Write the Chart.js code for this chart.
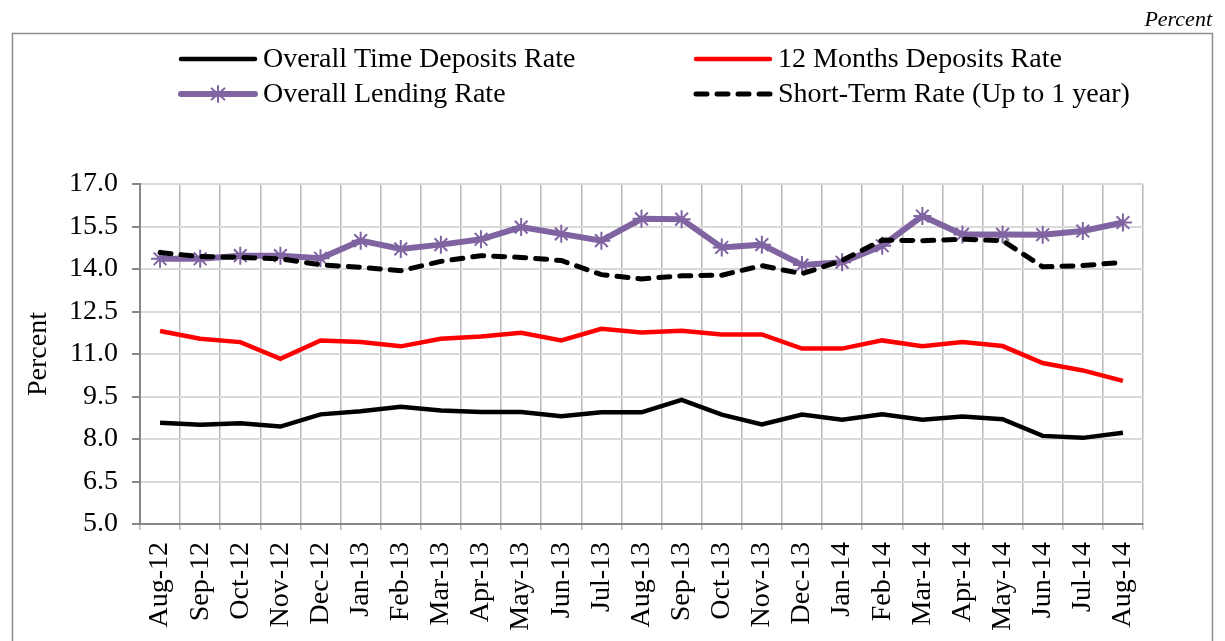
<!DOCTYPE html>
<html>
<head>
<meta charset="utf-8">
<script src="https://cdn.jsdelivr.net/npm/chart.js@4/dist/chart.umd.min.js"></script>
<style>
  html, body { margin: 0; padding: 0; background: #fff; }
  #wrap { position: relative; width: 1225px; height: 641px; }
</style>
</head>
<body>
<div id="wrap"><canvas id="rateChart" width="1225" height="641"></canvas></div>
<script>
const months = ['Aug-12', 'Sep-12', 'Oct-12', 'Nov-12', 'Dec-12', 'Jan-13', 'Feb-13', 'Mar-13',
  'Apr-13', 'May-13', 'Jun-13', 'Jul-13', 'Aug-13', 'Sep-13', 'Oct-13', 'Nov-13', 'Dec-13',
  'Jan-14', 'Feb-14', 'Mar-14', 'Apr-14', 'May-14', 'Jun-14', 'Jul-14', 'Aug-14'];

const overallTimeDeposits = [8.57, 8.50, 8.56, 8.44, 8.87, 8.98, 9.14, 9.01, 8.95, 8.95, 8.80, 8.94,
  8.94, 9.38, 8.86, 8.51, 8.86, 8.68, 8.87, 8.68, 8.79, 8.70, 8.11, 8.04, 8.22];
const twelveMonthDeposits = [11.81, 11.54, 11.42, 10.83, 11.48, 11.42, 11.27, 11.54, 11.62, 11.75, 11.48, 11.89,
  11.76, 11.82, 11.69, 11.69, 11.19, 11.19, 11.48, 11.27, 11.42, 11.28, 10.68, 10.42, 10.05];
const overallLending = [14.36, 14.36, 14.47, 14.47, 14.38, 15.00, 14.71, 14.86, 15.05, 15.48, 15.24, 15.00,
  15.77, 15.76, 14.76, 14.86, 14.14, 14.24, 14.82, 15.87, 15.22, 15.22, 15.21, 15.34, 15.64];
const shortTermRate = [14.58, 14.44, 14.41, 14.36, 14.15, 14.06, 13.94, 14.27, 14.47, 14.41, 14.30, 13.80,
  13.65, 13.76, 13.78, 14.12, 13.83, 14.30, 15.02, 15.00, 15.05, 15.00, 14.08, 14.12, 14.24];

const yTicks = { min: 5, max: 17, step: 1.5 };

const SERIF = '"Liberation Serif", "Times New Roman", serif';
const PURPLE = '#8064A2';

// border box around the chart plus the italic unit note
const frame = {
  id: 'frame',
  beforeDraw(chart) {
    const ctx = chart.ctx;
    ctx.save();
    ctx.fillStyle = '#fff';
    ctx.fillRect(0, 0, chart.width, chart.height);
    ctx.strokeStyle = '#8c8c8c';
    ctx.lineWidth = 1.5;
    ctx.strokeRect(12.5, 33.5, 1200, 640);
    ctx.fillStyle = '#000';
    ctx.font = 'italic 22px ' + SERIF;
    ctx.textAlign = 'right';
    ctx.textBaseline = 'alphabetic';
    ctx.fillText('Percent', 1212, 26);
    ctx.restore();
  },
};

// two-column legend like the spreadsheet original
const gridLegend = {
  id: 'gridLegend',
  afterDraw(chart) {
    const ctx = chart.ctx;
    const colX = [181, 696];
    const rowY = [59, 94];
    ctx.save();
    chart.data.datasets.forEach((ds, i) => {
      const x0 = colX[i % 2];
      const y = rowY[Math.floor(i / 2)];
      ctx.strokeStyle = ds.borderColor;
      ctx.lineWidth = ds.borderWidth;
      ctx.lineCap = 'round';
      ctx.setLineDash(ds.borderDash || []);
      ctx.beginPath();
      ctx.moveTo(x0, y);
      ctx.lineTo(x0 + 74, y);
      ctx.stroke();
      ctx.setLineDash([]);
      if (ds.pointStyle === 'star') {
        ctx.lineWidth = 2;
        const cx = x0 + 37, r = 8;
        ctx.beginPath();
        ctx.moveTo(cx, y - r); ctx.lineTo(cx, y + r);
        ctx.moveTo(cx - r * 0.8, y - r * 0.7); ctx.lineTo(cx + r * 0.8, y + r * 0.7);
        ctx.moveTo(cx - r * 0.8, y + r * 0.7); ctx.lineTo(cx + r * 0.8, y - r * 0.7);
        ctx.stroke();
      }
      ctx.fillStyle = '#000';
      ctx.font = '28px ' + SERIF;
      ctx.textBaseline = 'middle';
      ctx.fillText(ds.label, x0 + 82, y + 1);
    });
    ctx.restore();
  },
};

new Chart(document.getElementById('rateChart'), {
  type: 'line',
  data: {
    labels: months,
    datasets: [
      {
        label: 'Overall Time Deposits Rate',
        data: overallTimeDeposits,
        borderColor: '#000',
        borderWidth: 4.5,
        pointRadius: 0,
        order: 4,
      },
      {
        label: '12 Months Deposits Rate',
        data: twelveMonthDeposits,
        borderColor: '#ff0000',
        borderWidth: 4.5,
        pointRadius: 0,
        order: 3,
      },
      {
        label: 'Overall Lending Rate',
        data: overallLending,
        borderColor: PURPLE,
        borderWidth: 6,
        pointStyle: 'star',
        pointRadius: 9,
        pointBorderWidth: 2,
        pointBorderColor: PURPLE,
        pointBackgroundColor: PURPLE,
        order: 2,
      },
      {
        label: 'Short-Term Rate (Up to 1 year)',
        data: shortTermRate,
        borderColor: '#000',
        borderWidth: 5,
        borderDash: [11, 10],
        borderCapStyle: 'round',
        pointRadius: 0,
        order: 1,
      },
    ],
  },
  options: {
    responsive: false,
    animation: false,
    layout: { padding: { top: 184, right: 82, left: 22, bottom: 0 } },
    plugins: {
      legend: { display: false },
      tooltip: { enabled: false },
    },
    elements: { line: { tension: 0 } },
    scales: {
      x: {
        offset: true,
        grid: {
          offset: true,
          color: '#b8b8b8',
          lineWidth: 1.5,
          drawTicks: true,
          tickLength: 6,
        },
        border: { color: '#868686', width: 2 },
        ticks: {
          color: '#000',
          font: { family: SERIF, size: 28 },
          minRotation: 90,
          maxRotation: 90,
          autoSkip: false,
          padding: 12,
        },
        afterFit(scale) { scale.height = 117; },
      },
      y: {
        min: yTicks.min,
        max: yTicks.max,
        grid: {
          color: '#d9d9d9',
          lineWidth: 2,
          tickColor: '#868686',
          tickLength: 8,
        },
        border: { color: '#868686', width: 2 },
        ticks: {
          stepSize: yTicks.step,
          color: '#000',
          font: { family: SERIF, size: 28 },
          padding: 14,
          callback: (v) => v.toFixed(1),
        },
        title: {
          display: true,
          text: 'Percent',
          color: '#000',
          font: { family: SERIF, size: 28 },
          padding: 0,
        },
        afterFit(scale) { scale.width = 118; },
      },
    },
  },
  plugins: [frame, gridLegend],
});
</script>
</body>
</html>
